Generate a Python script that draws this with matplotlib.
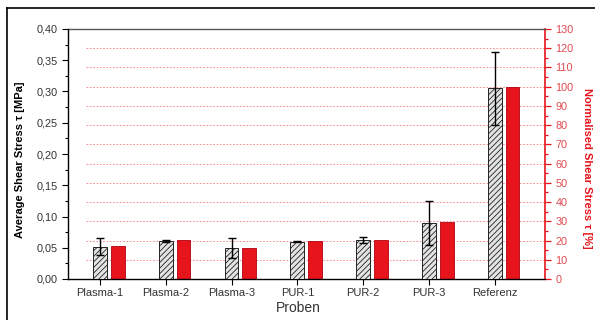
import matplotlib
matplotlib.use("Agg")
import matplotlib.pyplot as plt
from matplotlib.ticker import MultipleLocator, FuncFormatter
from matplotlib.lines import Line2D

plt.rcParams['font.family'] = ['Liberation Sans', 'DejaVu Sans']
plt.rcParams['hatch.linewidth'] = 0.6
plt.rcParams['hatch.color'] = '#333333'

categories = ["Plasma-1", "Plasma-2", "Plasma-3", "PUR-1", "PUR-2", "PUR-3", "Referenz"]
avg_stress = [0.052, 0.061, 0.050, 0.060, 0.062, 0.090, 0.305]      # MPa
stress_err = [0.014, 0.001, 0.016, 0.0005, 0.0045, 0.035, 0.059]   # MPa
norm_stress = [17.0, 20.1, 16.3, 19.6, 20.3, 29.5, 100.0]          # %

RED = '#e8141c'
TXT = '#333333'

fig = plt.figure(figsize=(5.95, 3.2), dpi=100)
ax = fig.add_axes([68/595, 1-279/320, (545-68)/595, (279-29)/320])
ax2 = ax.twinx()

x = list(range(1, len(categories) + 1))
off = 0.27
w = 0.21

ax.bar(x, avg_stress, width=w, color='#e3e3e3', edgecolor='#222222',
       hatch='//////', linewidth=0.7, zorder=3)
ax.errorbar(x, avg_stress, yerr=stress_err, fmt='none', ecolor='black',
            elinewidth=1.0, capsize=3, capthick=1.0, zorder=4)
ax2.bar([i + off for i in x], norm_stress, width=w, color=RED,
        edgecolor='#b00010', linewidth=0.6, zorder=3)

ax.set_xlim(0.514, 7.764)
ax.set_ylim(0, 0.40)
ax2.set_ylim(0, 130)

# red dashed grid at the right-axis major ticks
for v in range(10, 131, 10):
    ax2.axhline(v, xmin=0.038, xmax=1, color=RED, lw=0.6, ls=(0, (2, 2)),
                alpha=0.55, zorder=1)

ax.set_xticks(x)
ax.set_xticklabels(categories, fontsize=8, color=TXT)
ax.yaxis.set_major_locator(MultipleLocator(0.05))
ax.yaxis.set_minor_locator(MultipleLocator(0.025))
ax.yaxis.set_major_formatter(FuncFormatter(lambda v, p: f"{v:.2f}".replace('.', ',')))
ax.tick_params(axis='y', labelsize=7.8, labelcolor=TXT, direction='out',
               length=4, width=0.8)
ax.tick_params(axis='y', which='minor', direction='out', length=2.5, width=0.8)
ax.tick_params(axis='x', direction='out', length=4, width=0.8, pad=2.5)

ax2.yaxis.set_major_locator(MultipleLocator(10))
ax2.yaxis.set_minor_locator(MultipleLocator(5))
ax2.tick_params(axis='y', which='major', colors=RED, labelsize=7.8,
                direction='out', length=4, width=0.9)
ax2.tick_params(axis='y', which='minor', colors=RED, direction='out',
                length=2.5, width=0.9)
for lbl in ax2.get_yticklabels():
    lbl.set_color('#e04a50')

for s in ('top', 'right'):
    ax.spines[s].set_visible(False)
ax2.spines['left'].set_visible(False)
ax2.spines['bottom'].set_visible(False)
ax2.spines['top'].set_color('#555555')
ax2.spines['top'].set_linewidth(1.0)
ax2.spines['right'].set_color(RED)
ax2.spines['right'].set_linewidth(1.2)
ax.spines['left'].set_linewidth(1.0)
ax.spines['bottom'].set_linewidth(1.0)

ax.set_zorder(2)
ax.patch.set_visible(False)
ax2.set_zorder(1)

fig.text(20/595, 1-160/320, "Average Shear Stress τ [MPa]", rotation=90,
         ha='center', va='center', fontsize=8, fontweight='bold')
fig.text(587/595, 1-168/320, "Normalised Shear Stress τ [%]", rotation=270,
         ha='center', va='center', fontsize=8, fontweight='bold', color=RED)
fig.text(298/595, 1-308/320, "Proben", ha='center', va='center', fontsize=10,
         color=TXT)

# outer frame
fig.add_artist(Line2D([7/595, 1.0], [1-8/320, 1-8/320], color='black', lw=1.2,
                      transform=fig.transFigure))
fig.add_artist(Line2D([7/595, 7/595], [0.0, 1-8/320], color='black', lw=1.2,
                      transform=fig.transFigure))

fig.savefig("out.png", dpi=100)
